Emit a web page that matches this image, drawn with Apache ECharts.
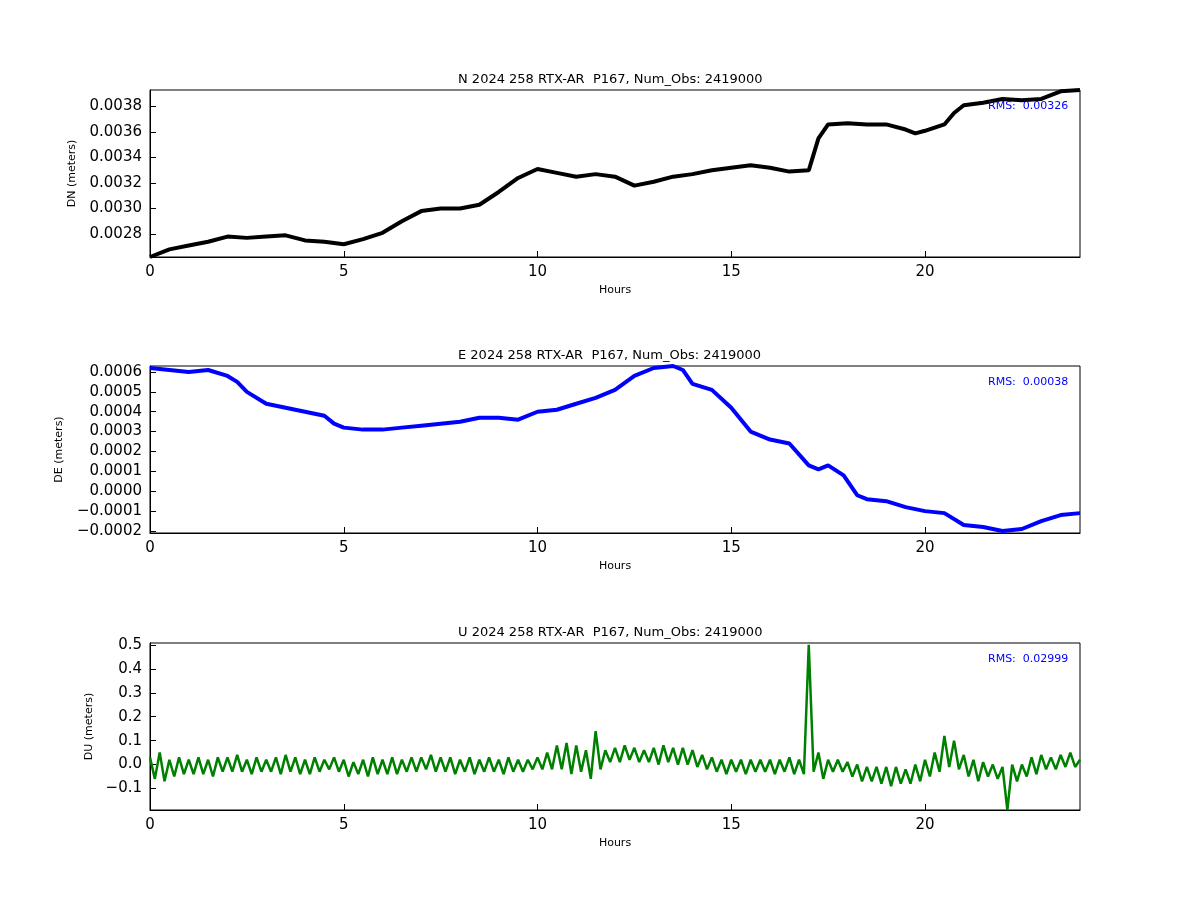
<!DOCTYPE html>
<html>
<head>
<meta charset="utf-8">
<script src="https://cdn.jsdelivr.net/npm/echarts@6/dist/echarts.min.js"></script>
<style>html,body{margin:0;background:#fff}#chart{width:1200px;height:900px}</style>
</head>
<body>
<div id="chart"></div>
<script>
// values
const hoursN = [0,0.5,1,1.5,2,2.5,3,3.5,4,4.5,5,5.5,6,6.5,7,7.5,8,8.5,9,9.5,10,10.5,11,11.5,12,12.5,13,13.5,14,14.5,15,15.5,16,16.5,17,17.25,17.5,18,18.5,19,19.5,19.75,20,20.5,20.75,21,21.5,22,22.5,23,23.5,24];
const dn = [0.00262,0.00268,0.00271,0.00274,0.00278,0.00277,0.00278,0.00279,0.00275,0.00274,0.00272,0.00276,0.00281,0.00290,0.00298,0.00300,0.00300,0.00303,0.00313,0.00324,0.00331,0.00328,0.00325,0.00327,0.00325,0.00318,0.00321,0.00325,0.00327,0.00330,0.00332,0.00334,0.00332,0.00329,0.00330,0.00355,0.00366,0.00367,0.00366,0.00366,0.00362,0.00359,0.00361,0.00366,0.00375,0.00381,0.00383,0.00386,0.00385,0.00386,0.00392,0.00393];

const hoursE = [0,0.5,1,1.5,2,2.25,2.5,3,3.5,4,4.5,4.75,5,5.5,6,6.5,7,7.5,8,8.5,9,9.5,10,10.5,11,11.5,12,12.5,13,13.5,13.75,14,14.5,15,15.5,16,16.5,17,17.25,17.5,17.9,18.25,18.5,19,19.5,20,20.5,21,21.5,22,22.5,23,23.5,24];
const de = [0.00062,0.00061,0.00060,0.00061,0.00058,0.00055,0.00050,0.00044,0.00042,0.00040,0.00038,0.00034,0.00032,0.00031,0.00031,0.00032,0.00033,0.00034,0.00035,0.00037,0.00037,0.00036,0.00040,0.00041,0.00044,0.00047,0.00051,0.00058,0.00062,0.00063,0.00061,0.00054,0.00051,0.00042,0.00030,0.00026,0.00024,0.00013,0.00011,0.00013,0.00008,-0.00002,-0.00004,-0.00005,-0.00008,-0.00010,-0.00011,-0.00017,-0.00018,-0.00020,-0.00019,-0.00015,-0.00012,-0.00011];

// U: upper / lower extent of the noisy band, every 0.25 h
const uStep = 0.25;
const duHi = [0.03,0.05,0.02,0.03, 0.02,0.03,0.02,0.03, 0.03,0.04,0.02,0.03, 0.02,0.03,0.04,0.03, 0.02,0.03,0.02,0.03, 0.02,0.01,0.02,0.03, 0.02,0.03,0.02,0.03, 0.03,0.04,0.03,0.03, 0.02,0.03,0.02,0.03, 0.02,0.03,0.02,0.02, 0.03,0.05,0.08,0.09, 0.08,0.06,0.14,0.06, 0.07,0.08,0.07,0.06, 0.07,0.08,0.07,0.07, 0.06,0.04,0.03,0.02, 0.02,0.02,0.02,0.02, 0.02,0.02,0.03,0.02, 0.5,0.05,0.02,0.02, 0.01,0.0,-0.01,-0.01, -0.01,-0.01,-0.02,0.0, 0.02,0.05,0.12,0.1, 0.04,0.02,0.01,0.0, -0.01,0.0,0.0,0.03, 0.04,0.03,0.04,0.05, 0.02];
const duLo = [-0.06,-0.07,-0.05,-0.04, -0.04,-0.04,-0.05,-0.03, -0.03,-0.03,-0.04,-0.03, -0.03,-0.04,-0.03,-0.04, -0.04,-0.03,-0.02,-0.03, -0.05,-0.04,-0.05,-0.04, -0.04,-0.04,-0.03,-0.03, -0.02,-0.03,-0.03,-0.04, -0.03,-0.04,-0.03,-0.03, -0.04,-0.03,-0.03,-0.02, -0.02,-0.02,-0.02,-0.04, -0.03,-0.06,-0.02,0.01, 0.01,0.02,0.01,0.01, 0.0,0.01,0.0,0.0, -0.01,-0.02,-0.03,-0.04, -0.03,-0.04,-0.03,-0.03, -0.04,-0.03,-0.04,-0.04, -0.03,-0.06,-0.03,-0.03, -0.05,-0.07,-0.07,-0.08, -0.09,-0.08,-0.08,-0.07, -0.05,-0.03,-0.01,-0.02, -0.05,-0.07,-0.05,-0.06, -0.19,-0.07,-0.05,-0.04, -0.02,-0.02,-0.01,-0.01, -0.02];

const titles = ['N 2024 258 RTX-AR  P167, Num_Obs: 2419000','E 2024 258 RTX-AR  P167, Num_Obs: 2419000','U 2024 258 RTX-AR  P167, Num_Obs: 2419000'];
const rmsLabels = ['RMS:  0.00326','RMS:  0.00038','RMS:  0.02999'];
const yNames = ['DN (meters)','DE (meters)','DU (meters)'];
const xTicks = [0,5,10,15,20];
const yTicksN = [0.0028,0.0030,0.0032,0.0034,0.0036,0.0038];
const yTicksE = [-0.0002,-0.0001,0,0.0001,0.0002,0.0003,0.0004,0.0005,0.0006];
const yTicksU = [-0.1,0,0.1,0.2,0.3,0.4,0.5];

const zip = (xs, ys) => xs.map((x, i) => [x, ys[i]]);
const uData = [];
duHi.forEach((v, i) => {
  uData.push([i * uStep, v]);
  if (i < duLo.length - 1) uData.push([i * uStep + uStep / 2, duLo[i]]);
});

const tops = [90, 366, 643];
const gridH = 167;
const fmt = (d) => (v) => (v < 0 ? '\u2212' : '') + Math.abs(v).toFixed(d);

function xAxis(i) {
  return {
    type: 'value', gridIndex: i, min: 0, max: 24,
    name: 'Hours', nameLocation: 'middle', nameGap: 28,
    nameTextStyle: { fontSize: 11, color: '#000' },
    axisLine: { onZero: false, lineStyle: { color: '#000' } },
    axisTick: { inside: true, length: 6, customValues: xTicks, lineStyle: { color: '#000' } },
    axisLabel: { fontSize: 15, color: '#000', margin: 8, customValues: xTicks },
    splitLine: { show: false }
  };
}
function yAxis(i, min, max, ticks, dec, gap) {
  return {
    type: 'value', gridIndex: i, min: min, max: max,
    name: yNames[i], nameLocation: 'middle', nameGap: gap, nameRotate: 90,
    nameTextStyle: { fontSize: 11, color: '#000' },
    axisLine: { onZero: false, lineStyle: { color: '#000' } },
    axisTick: { inside: true, length: 6, customValues: ticks, lineStyle: { color: '#000' } },
    axisLabel: { fontSize: 15, color: '#000', customValues: ticks, formatter: fmt(dec) },
    splitLine: { show: false }
  };
}

const option = {
  animation: false,
  backgroundColor: '#fff',
  textStyle: { fontFamily: 'DejaVu Sans' },
  title: titles.map((t, i) => ({
    text: t, left: 453, top: tops[i] - 22,
    textStyle: { fontSize: 13, fontWeight: 'normal', color: '#000' }
  })).concat(rmsLabels.map((t, i) => ({
    text: t, left: 983, top: tops[i] + 6,
    textStyle: { fontSize: 11, fontWeight: 'normal', color: '#0000ff' }
  }))),
  grid: tops.map(t => ({ left: 150, width: 930, top: t, height: gridH, show: true, borderColor: '#000', borderWidth: 1, backgroundColor: 'transparent' })),
  xAxis: [xAxis(0), xAxis(1), xAxis(2)],
  yAxis: [
    yAxis(0, 0.00262, 0.00393, yTicksN, 4, 72),
    yAxis(1, -0.00021, 0.00063, yTicksE, 4, 85),
    yAxis(2, -0.19, 0.508, yTicksU, 1, 50)
  ],
  series: [
    { type: 'line', xAxisIndex: 0, yAxisIndex: 0, data: zip(hoursN, dn), showSymbol: false, lineStyle: { color: '#000', width: 4 }, z: 1 },
    { type: 'line', xAxisIndex: 1, yAxisIndex: 1, data: zip(hoursE, de), showSymbol: false, lineStyle: { color: '#0000ff', width: 4 }, z: 1 },
    { type: 'line', xAxisIndex: 2, yAxisIndex: 2, data: uData, showSymbol: false, lineStyle: { color: '#008000', width: 2.5 }, z: 1 }
  ]
};

const chart = echarts.init(document.getElementById('chart'));
chart.setOption(option);
</script>
</body>
</html>
